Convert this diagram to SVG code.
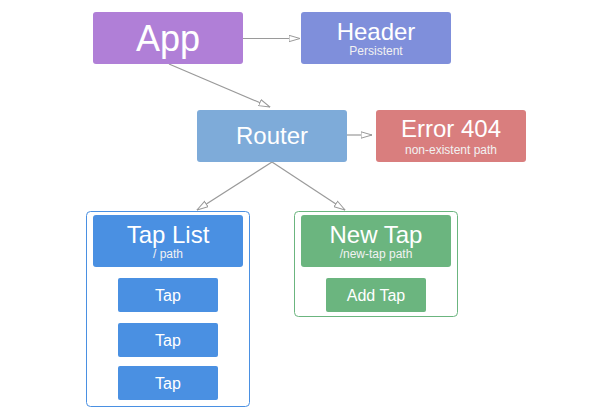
<svg xmlns="http://www.w3.org/2000/svg" width="612" height="420" viewBox="0 0 612 420">
  <style>
    text { font-family: "Liberation Sans", Arial, sans-serif; fill: #ffffff; text-anchor: middle; }
    .big { font-size: 24px; }
    .sub { font-size: 12px; fill: #f2f2f2; }
    .small { font-size: 16px; }
    .edge { fill: none; stroke: #9a9a9a; stroke-width: 1.2; marker-end: url(#open-arrow); }
    .frame { fill: #ffffff; stroke-width: 1; }
  </style>
  <defs>
    <marker id="open-arrow" viewBox="0 0 12 8" refX="11.5" refY="4" markerWidth="12" markerHeight="8" markerUnits="userSpaceOnUse" orient="auto">
      <path d="M0.5,0.8 L11.5,4 L0.5,7.2 Z" fill="#ffffff" stroke="#9a9a9a" stroke-width="1"/>
    </marker>
  </defs>

  <rect width="612" height="420" fill="#ffffff"/>

  <!-- connectors -->
  <g id="connectors">
    <path class="edge" d="M243,38.5 L300,38.5"/>
    <path class="edge" d="M169,64 L270,107"/>
    <path class="edge" d="M347,135 L372,135"/>
    <path class="edge" d="M272,162 L197,210"/>
    <path class="edge" d="M272,162 L345,210"/>
  </g>

  <g id="app">
    <rect x="93" y="12" width="150" height="52" rx="3" fill="#b07fd7"/>
    <text x="168" y="51" style="font-size:36px">App</text>
  </g>

  <g id="header">
    <rect x="301" y="12" width="150" height="52" rx="3" fill="#7f8fdb"/>
    <text class="big" x="376" y="40">Header</text>
    <text class="sub" x="376" y="55">Persistent</text>
  </g>

  <g id="router">
    <rect x="197" y="110" width="150" height="52" rx="3" fill="#7eabd9"/>
    <text class="big" x="272" y="144">Router</text>
  </g>

  <g id="error404">
    <rect x="376" y="110" width="150" height="52" rx="3" fill="#d97e7e"/>
    <text class="big" x="451" y="137">Error 404</text>
    <text class="sub" x="451" y="154">non-existent path</text>
  </g>

  <g id="tap-list">
    <rect class="frame" x="86.5" y="211.5" width="163" height="195" rx="4" stroke="#4a90e2"/>
    <rect x="93" y="215" width="150" height="52" rx="3" fill="#4a90e2"/>
    <text class="big" x="168" y="243">Tap List</text>
    <text class="sub" x="168" y="258">/ path</text>
  </g>

  <g id="tap-1">
    <rect x="118" y="278" width="100" height="34" rx="2" fill="#4a90e2"/>
    <text class="small" x="168" y="301">Tap</text>
  </g>
  <g id="tap-2">
    <rect x="118" y="323" width="100" height="34" rx="2" fill="#4a90e2"/>
    <text class="small" x="168" y="346">Tap</text>
  </g>
  <g id="tap-3">
    <rect x="118" y="366" width="100" height="34" rx="2" fill="#4a90e2"/>
    <text class="small" x="168" y="389">Tap</text>
  </g>

  <g id="new-tap">
    <rect class="frame" x="294.5" y="211.5" width="163" height="105" rx="4" stroke="#6bb57f"/>
    <rect x="301" y="215" width="150" height="52" rx="3" fill="#6bb57f"/>
    <text class="big" x="376" y="243">New Tap</text>
    <text class="sub" x="376" y="258">/new-tap path</text>
  </g>

  <g id="add-tap">
    <rect x="326" y="278" width="100" height="34" rx="2" fill="#6bb57f"/>
    <text class="small" x="376" y="301">Add Tap</text>
  </g>
</svg>
